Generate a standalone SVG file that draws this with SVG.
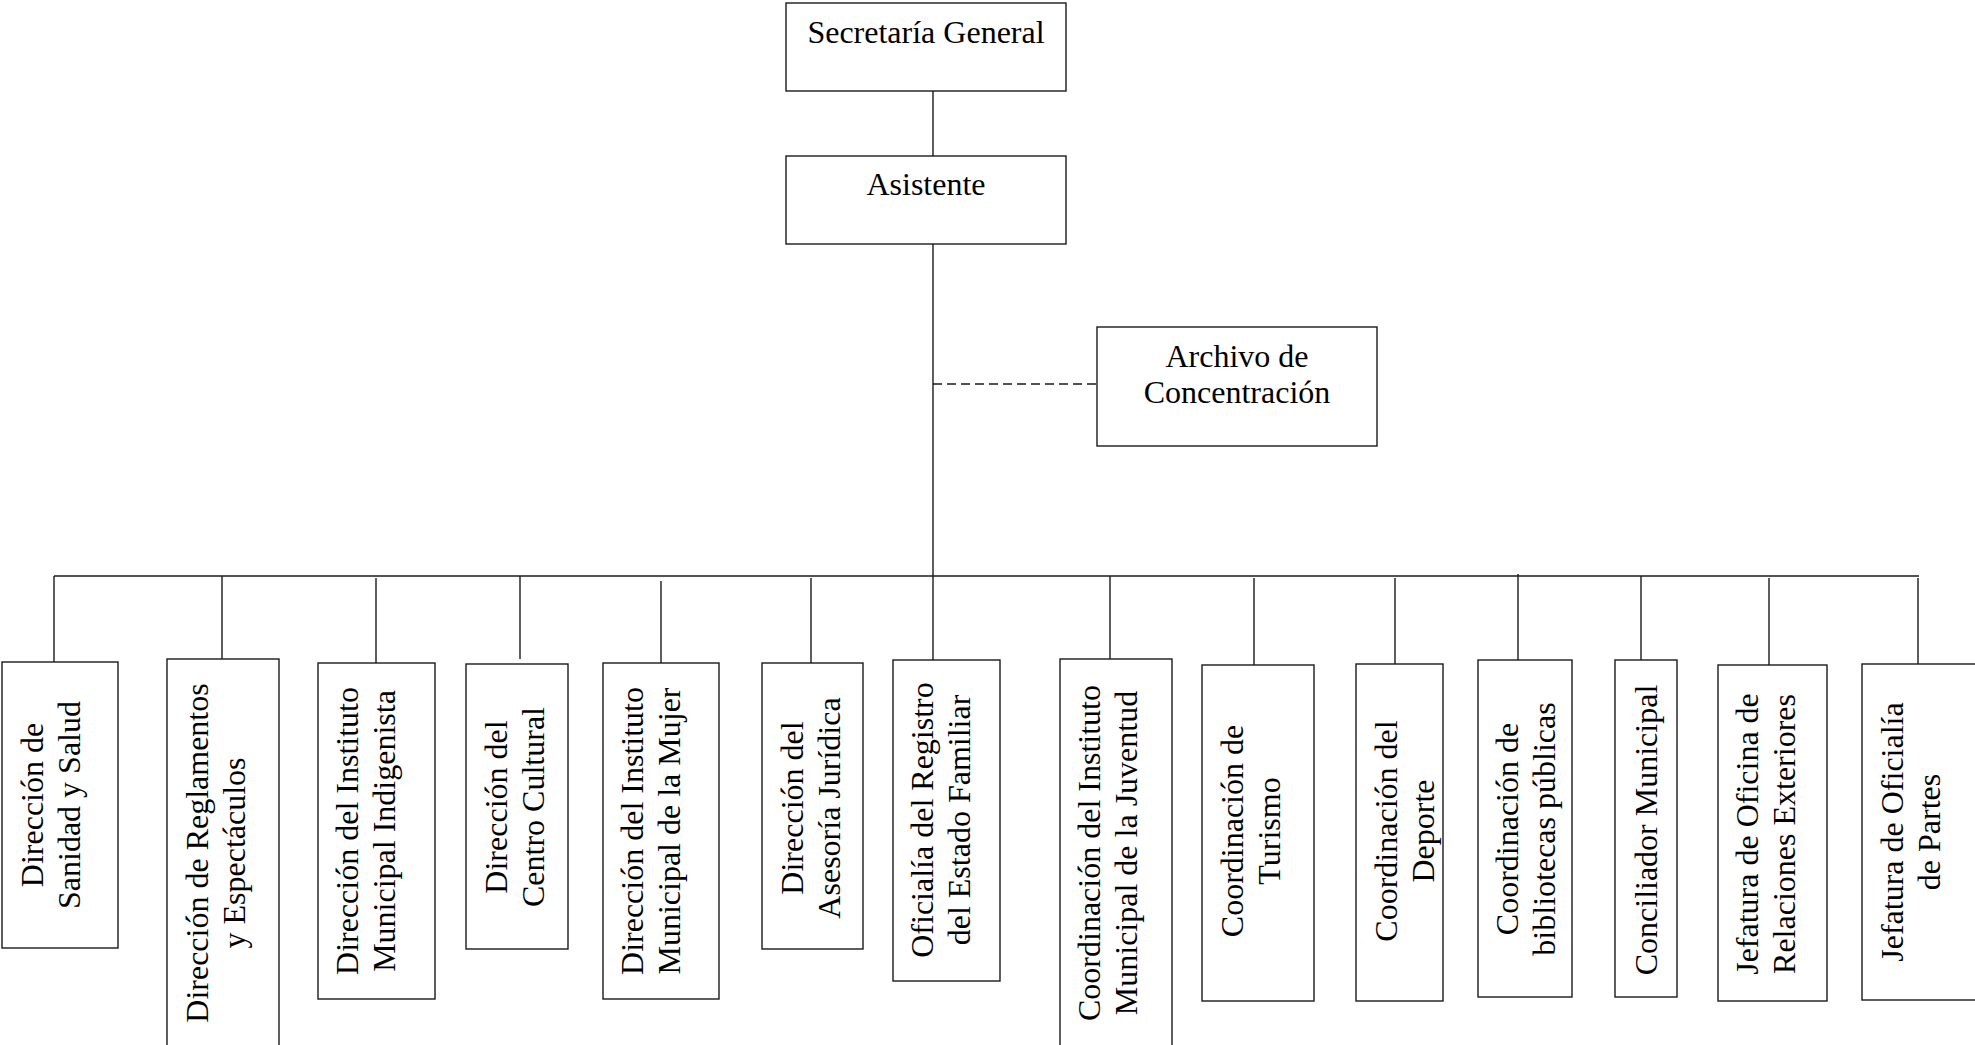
<svg xmlns="http://www.w3.org/2000/svg" width="1975" height="1045" viewBox="0 0 1975 1045">
<style>
.box{fill:#fff;stroke:#1a1a1a;stroke-width:1.4}
.ln{stroke:#1a1a1a;stroke-width:1.4;fill:none}
.dash{stroke:#1a1a1a;stroke-width:1.4;stroke-dasharray:9 5;fill:none}
text{font-family:"Liberation Serif","Times New Roman",serif;font-size:32px;fill:#000;text-anchor:middle}
</style>
<rect width="1975" height="1045" fill="#fff"/>
<g id="connectors">
<line class="ln" x1="933" y1="91" x2="933" y2="156"/>
<line class="ln" x1="933" y1="244" x2="933" y2="660"/>
<line class="dash" x1="933" y1="384" x2="1097" y2="384"/>
<line class="ln" x1="54" y1="576" x2="1919" y2="576"/>
<line class="ln" x1="54" y1="576" x2="54" y2="665"/>
<line class="ln" x1="222" y1="576" x2="222" y2="659"/>
<line class="ln" x1="376" y1="578" x2="376" y2="663"/>
<line class="ln" x1="520" y1="576" x2="520" y2="659"/>
<line class="ln" x1="661" y1="581" x2="661" y2="663"/>
<line class="ln" x1="811" y1="578" x2="811" y2="663"/>
<line class="ln" x1="1110" y1="576" x2="1110" y2="660"/>
<line class="ln" x1="1254" y1="578" x2="1254" y2="665"/>
<line class="ln" x1="1395" y1="578" x2="1395" y2="664"/>
<line class="ln" x1="1518" y1="574" x2="1518" y2="660"/>
<line class="ln" x1="1641" y1="576" x2="1641" y2="660"/>
<line class="ln" x1="1769" y1="578" x2="1769" y2="665"/>
<line class="ln" x1="1918" y1="578" x2="1918" y2="664"/>
</g>
<g id="secretaria">
<rect class="box" x="786" y="3" width="280" height="88"/>
<text x="926" y="43">Secretaría General</text>
</g>
<g id="asistente">
<rect class="box" x="786" y="156" width="280" height="88"/>
<text x="926" y="195">Asistente</text>
</g>
<g id="archivo">
<rect class="box" x="1097" y="327" width="280" height="119"/>
<text x="1237" y="367">Archivo de</text>
<text x="1237" y="403">Concentración</text>
</g>
<g id="n1">
<rect class="box" x="2" y="662" width="116" height="286"/>
<text transform="translate(43,805) rotate(-90)"><tspan x="0" y="0">Dirección de</tspan><tspan x="0" y="37">Sanidad y Salud</tspan></text>
</g>
<g id="n2">
<rect class="box" x="167" y="659" width="112" height="400"/>
<text transform="translate(208,853) rotate(-90)"><tspan x="0" y="0">Dirección de Reglamentos</tspan><tspan x="0" y="37">y Espectáculos</tspan></text>
</g>
<g id="n3">
<rect class="box" x="318" y="663" width="117" height="336"/>
<text transform="translate(358,831) rotate(-90)"><tspan x="0" y="0">Dirección del Instituto</tspan><tspan x="0" y="37">Municipal Indigenista</tspan></text>
</g>
<g id="n4">
<rect class="box" x="466" y="664" width="102" height="285"/>
<text transform="translate(507,807) rotate(-90)"><tspan x="0" y="0">Dirección del</tspan><tspan x="0" y="37">Centro Cultural</tspan></text>
</g>
<g id="n5">
<rect class="box" x="603" y="663" width="116" height="336"/>
<text transform="translate(643,831) rotate(-90)"><tspan x="0" y="0">Dirección del Instituto</tspan><tspan x="0" y="37">Municipal de la Mujer</tspan></text>
</g>
<g id="n6">
<rect class="box" x="762" y="663" width="101" height="286"/>
<text transform="translate(803,808) rotate(-90)"><tspan x="0" y="0">Dirección del</tspan><tspan x="0" y="37">Asesoría Jurídica</tspan></text>
</g>
<g id="n7">
<rect class="box" x="893" y="660" width="107" height="321"/>
<text transform="translate(933,820) rotate(-90)"><tspan x="0" y="0">Oficialía del Registro</tspan><tspan x="0" y="37">del Estado Familiar</tspan></text>
</g>
<g id="n8">
<rect class="box" x="1060" y="659" width="112" height="400"/>
<text transform="translate(1100,853) rotate(-90)"><tspan x="0" y="0">Coordinación del Instituto</tspan><tspan x="0" y="37">Municipal de la Juventud</tspan></text>
</g>
<g id="n9">
<rect class="box" x="1202" y="665" width="112" height="336"/>
<text transform="translate(1243,831) rotate(-90)"><tspan x="0" y="0">Coordinación de</tspan><tspan x="0" y="37">Turismo</tspan></text>
</g>
<g id="n10">
<rect class="box" x="1356" y="664" width="87" height="337"/>
<text transform="translate(1397,831) rotate(-90)"><tspan x="0" y="0">Coordinación del</tspan><tspan x="0" y="37">Deporte</tspan></text>
</g>
<g id="n11">
<rect class="box" x="1478" y="660" width="94" height="337"/>
<text transform="translate(1518,829) rotate(-90)"><tspan x="0" y="0">Coordinación de</tspan><tspan x="0" y="37">bibliotecas públicas</tspan></text>
</g>
<g id="n12">
<rect class="box" x="1615" y="660" width="62" height="337"/>
<text transform="translate(1657,830) rotate(-90)">Conciliador Municipal</text>
</g>
<g id="n13">
<rect class="box" x="1718" y="665" width="109" height="336"/>
<text transform="translate(1758,834) rotate(-90)"><tspan x="0" y="0">Jefatura de Oficina de</tspan><tspan x="0" y="37">Relaciones Exteriores</tspan></text>
</g>
<g id="n14">
<rect class="box" x="1862" y="664" width="120" height="336"/>
<text transform="translate(1903,832) rotate(-90)"><tspan x="0" y="0">Jefatura de Oficialía</tspan><tspan x="0" y="37">de Partes</tspan></text>
</g>
</svg>
